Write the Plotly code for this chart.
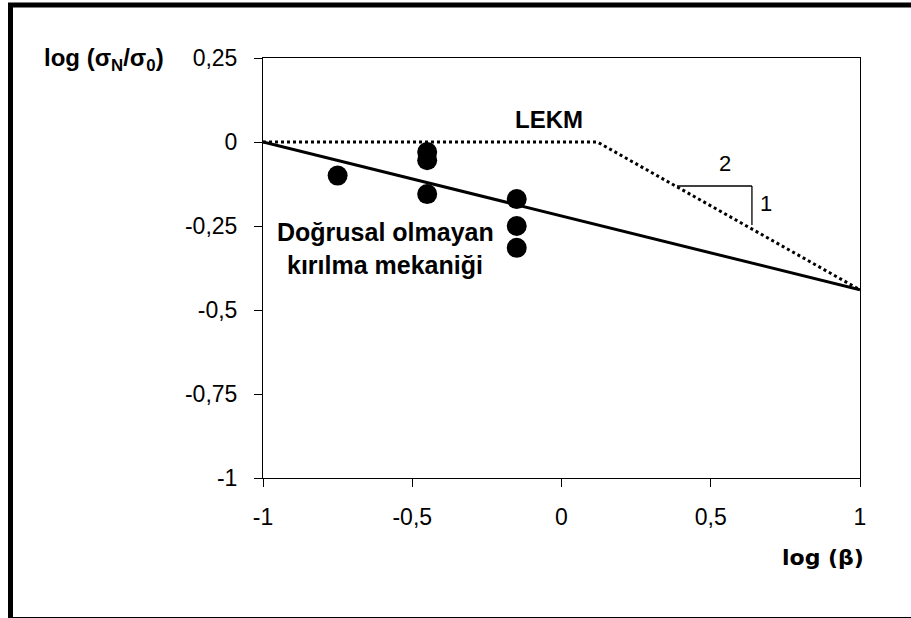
import plotly.graph_objects as go

# ---- data ----
x_ticks = [-1, -0.5, 0, 0.5, 1]
x_tick_labels = ["-1", "-0,5", "0", "0,5", "1"]
y_ticks = [-1, -0.75, -0.5, -0.25, 0, 0.25]
y_tick_labels = ["-1", "-0,75", "-0,5", "-0,25", "0", "0,25"]

points_x = [-0.75, -0.45, -0.45, -0.45, -0.15, -0.15, -0.15]
points_y = [-0.10, -0.03, -0.054, -0.155, -0.17, -0.25, -0.315]

nonlinear_x = [-1, 1]
nonlinear_y = [0, -0.44]

lekm_x = [-1, 0.12, 1]
lekm_y = [0, 0, -0.44]

slope_h_x = [0.387, 0.638]
slope_h_y = [-0.131, -0.131]
slope_v_x = [0.638, 0.638]
slope_v_y = [-0.131, -0.247]

W, H = 911, 618
L, R, T, B = 263, 860, 58, 478
FONT = "Liberation Sans, Arial, sans-serif"

def px(x):
    return (x - L) / (R - L)

def py(y):
    return (B - y) / (B - T)

fig = go.Figure()
fig.add_trace(go.Scatter(x=lekm_x, y=lekm_y, mode="lines",
                         line=dict(color="black", width=3, dash="dot"), showlegend=False))
fig.add_trace(go.Scatter(x=nonlinear_x, y=nonlinear_y, mode="lines",
                         line=dict(color="black", width=3), showlegend=False))
fig.add_trace(go.Scatter(x=slope_h_x, y=slope_h_y, mode="lines",
                         line=dict(color="black", width=1.3), showlegend=False))
fig.add_trace(go.Scatter(x=slope_v_x, y=slope_v_y, mode="lines",
                         line=dict(color="black", width=1.3), showlegend=False))
fig.add_trace(go.Scatter(x=points_x, y=points_y, mode="markers",
                         marker=dict(color="black", size=20, line=dict(width=0)),
                         showlegend=False, cliponaxis=False))

fig.update_layout(
    width=W, height=H,
    margin=dict(l=L, r=W - R, t=T, b=H - B),
    paper_bgcolor="white", plot_bgcolor="white",
    font=dict(family=FONT, color="black", size=23),
    xaxis=dict(range=[-1, 1], tickvals=x_ticks, ticktext=x_tick_labels,
               showgrid=False, zeroline=False, showline=True, linecolor="black",
               linewidth=1, mirror=True, ticks="outside", ticklen=8, tickcolor="black",
               ticklabelstandoff=10, tickfont=dict(size=23, family=FONT)),
    yaxis=dict(range=[-1, 0.25], tickvals=y_ticks, ticktext=y_tick_labels,
               showgrid=False, zeroline=False, showline=True, linecolor="black",
               linewidth=1, mirror=True, ticks="outside", ticklen=8, tickcolor="black",
               ticklabelstandoff=12, tickfont=dict(size=23, family=FONT)),
)

# outer frame
fig.add_shape(type="rect", xref="paper", yref="paper",
              x0=px(10.5), x1=px(916), y0=py(5), y1=py(619.5),
              line=dict(color="black", width=5), fillcolor="rgba(0,0,0,0)", layer="above")

ann = [
    dict(x=px(104), y=py(60), text="<b>log (σ<sub>N</sub>/σ<sub>0</sub>)</b>", size=24),
    dict(x=px(823), y=py(557), text="<b>log (β)</b>", size=22, family="DejaVu Sans, sans-serif"),
    dict(x=px(549), y=py(119), text="<b>LEKM</b>", size=24),
    dict(x=px(385), y=py(232), text="<b>Doğrusal olmayan</b>", size=25),
    dict(x=px(385), y=py(265), text="<b>kırılma mekaniği</b>", size=25),
    dict(x=px(725), y=py(163), text="2", size=22),
    dict(x=px(766), y=py(203), text="1", size=22),
]
for a in ann:
    fig.add_annotation(x=a["x"], y=a["y"], xref="paper", yref="paper", text=a["text"],
                       showarrow=False, xanchor="center", yanchor="middle",
                       font=dict(size=a["size"], family=a.get("family", FONT), color="black"))

fig.write_html("out.html")
